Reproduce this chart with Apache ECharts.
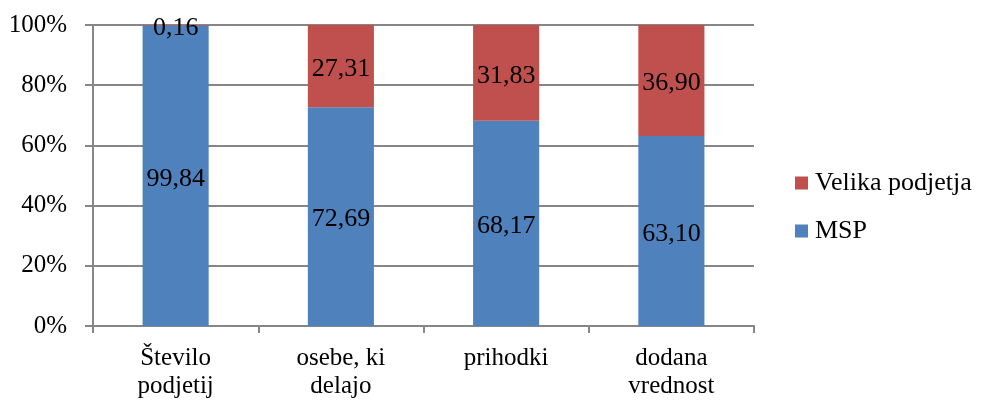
<!DOCTYPE html>
<html>
<head>
<meta charset="utf-8">
<script src="https://cdn.jsdelivr.net/npm/echarts@6/dist/echarts.min.js"></script>
<style>
  html, body { margin: 0; padding: 0; background: #fff; }
  #chart { width: 981px; height: 401px; }
</style>
</head>
<body>
<div id="chart"></div>
<script>
// Share of SMEs vs large enterprises by indicator (%)
const categories = ['Število\npodjetij', 'osebe, ki\ndelajo', 'prihodki', 'dodana\nvrednost'];
const mspValues = [99.84, 72.69, 68.17, 63.10];
const velikaValues = [0.16, 27.31, 31.83, 36.90];
const yTicks = [0, 20, 40, 60, 80, 100];

const FONT = '"Liberation Serif", "Times New Roman", serif';
const fmt = v => v.toFixed(2).replace('.', ',');

const chart = echarts.init(document.getElementById('chart'), null, { renderer: 'canvas' });

const labelStyle = {
  show: true,
  position: 'inside',
  offset: [0, 3],
  fontFamily: FONT,
  fontSize: 26,
  color: '#000',
  formatter: p => fmt(p.value)
};

chart.setOption({
  animation: false,
  backgroundColor: '#fff',
  grid: { left: 93, right: 227, top: 25, bottom: 75, containLabel: false },
  legend: {
    orient: 'vertical',
    left: 795,
    top: 170,
    padding: 0,
    itemWidth: 13,
    itemHeight: 13,
    itemGap: 22,
    icon: 'rect',
    data: ['Velika podjetja', 'MSP'],
    textStyle: { fontFamily: FONT, fontSize: 26, color: '#000', lineHeight: 25, padding: [0, 0, 0, 2] }
  },
  xAxis: {
    type: 'category',
    data: categories,
    axisLine: { show: true, lineStyle: { color: '#868686', width: 2 } },
    axisTick: { show: true, length: 7, lineStyle: { color: '#868686', width: 2 } },
    axisLabel: { fontFamily: FONT, fontSize: 25, color: '#000', margin: 18, lineHeight: 28, interval: 0 }
  },
  yAxis: {
    type: 'value',
    min: yTicks[0],
    max: yTicks[yTicks.length - 1],
    interval: 20,
    axisLine: { show: true, lineStyle: { color: '#868686', width: 2 } },
    axisTick: { show: true, length: 8, lineStyle: { color: '#868686', width: 2 } },
    splitLine: { show: true, lineStyle: { color: '#868686', width: 2 } },
    axisLabel: { fontFamily: FONT, fontSize: 25, color: '#000', margin: 26, formatter: '{value}%' }
  },
  series: [
    {
      name: 'MSP',
      type: 'bar',
      stack: 'total',
      barWidth: '40%',
      data: mspValues,
      itemStyle: { color: '#4F81BD' },
      label: labelStyle
    },
    {
      name: 'Velika podjetja',
      type: 'bar',
      stack: 'total',
      barWidth: '40%',
      data: velikaValues,
      itemStyle: { color: '#C0504D' },
      label: labelStyle
    }
  ]
});
</script>
</body>
</html>
